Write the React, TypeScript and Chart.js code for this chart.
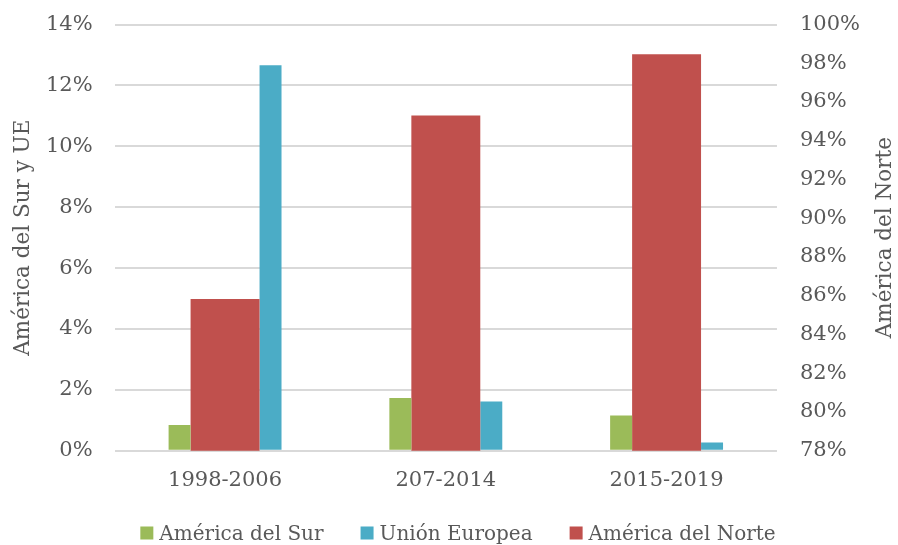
import React, { useEffect, useRef } from "react";
import { Chart, registerables } from "chart.js";

Chart.register(...registerables);

const categories = ["1998-2006", "207-2014", "2015-2019"];
const americaDelSur = [0.85, 1.73, 1.16];
const unionEuropea = [12.66, 1.62, 0.27];
const americaDelNorte = [85.84, 95.3, 98.46];
const leftTicks = { min: 0, max: 14, step: 2 };
const rightTicks = { min: 78, max: 100, step: 2 };
const leftTitle = "América del Sur y UE";
const rightTitle = "América del Norte";
const legendOrder = ["América del Sur", "Unión Europea", "América del Norte"];

const FONT = "'DejaVu Serif', serif";
const TEXT = "#595959";

export default function App() {
  const ref = useRef<HTMLCanvasElement | null>(null);
  useEffect(() => {
    document.body.style.margin = "0";
    const decorPlugin = {
      id: "decor",
      afterDraw(chart: any) {
        const { ctx, chartArea } = chart;
        const cy = (chartArea.top + chartArea.bottom) / 2;
        // axis titles
        const drawTitle = (text: string, x: number) => {
          ctx.save();
          ctx.fillStyle = TEXT;
          ctx.font = `21.5px ${FONT}`;
          ctx.textAlign = "center";
          ctx.textBaseline = "middle";
          ctx.translate(x, cy);
          ctx.rotate(-Math.PI / 2);
          ctx.fillText(text, 0, 0);
          ctx.restore();
        };
        drawTitle(leftTitle, 23);
        drawTitle(rightTitle, 885);
        // legend
        ctx.save();
        ctx.font = `20px ${FONT}`;
        ctx.textBaseline = "alphabetic";
        ctx.textAlign = "left";
        const box = 13;
        const gapText = 6;
        const gapItem = 37;
        const items = legendOrder.map((name) => {
          const ds = chart.data.datasets.find((d: any) => d.label === name);
          return { name, color: ds.backgroundColor, w: ctx.measureText(name).width };
        });
        const total =
          items.reduce((s, it) => s + box + gapText + it.w, 0) + gapItem * (items.length - 1);
        let x = 458 - total / 2;
        const baseY = 540;
        for (const it of items) {
          ctx.fillStyle = it.color;
          ctx.fillRect(x, baseY - 13.5, box, box);
          ctx.fillStyle = TEXT;
          ctx.fillText(it.name, x + box + gapText, baseY);
          x += box + gapText + it.w + gapItem;
        }
        ctx.restore();
      },
    };
    const noVertPad = (s: any) => {
      s.paddingTop = 0;
      s.paddingBottom = 0;
    };
    const chart = new Chart(ref.current!, {
      type: "bar",
      data: {
        labels: categories,
        datasets: [
          {
            label: "América del Sur",
            data: americaDelSur,
            backgroundColor: "#9BBB59",
            yAxisID: "y",
            barPercentage: 0.483,
            categoryPercentage: 0.618,
          },
          {
            label: "América del Norte",
            data: americaDelNorte,
            backgroundColor: "#C0504D",
            yAxisID: "y2",
            barPercentage: 1.516,
            categoryPercentage: 0.618,
          },
          {
            label: "Unión Europea",
            data: unionEuropea,
            backgroundColor: "#4BACC6",
            yAxisID: "y",
            barPercentage: 0.483,
            categoryPercentage: 0.618,
          },
        ],
      },
      options: {
        animation: false,
        responsive: true,
        maintainAspectRatio: false,
        layout: { padding: { left: 24, right: 15, top: 24.5, bottom: 35 } },
        plugins: {
          tooltip: { enabled: false },
          legend: { display: false },
        },
        scales: {
          x: {
            grid: { display: false, drawTicks: false },
            border: { display: false },
            ticks: {
              font: { family: FONT, size: 21 },
              color: TEXT,
              padding: 17,
            },
          },
          y: {
            position: "left",
            min: leftTicks.min,
            max: leftTicks.max,
            afterFit: noVertPad,
            grid: { color: "#d9d9d9", lineWidth: 2, drawTicks: false },
            border: { display: false },
            ticks: {
              stepSize: leftTicks.step,
              font: { family: FONT, size: 21 },
              color: TEXT,
              padding: 22,
              callback: (v: any) => v + "%",
            },
          },
          y2: {
            position: "right",
            min: rightTicks.min,
            max: rightTicks.max,
            afterFit: noVertPad,
            grid: { display: false, drawTicks: false },
            border: { display: false },
            ticks: {
              stepSize: rightTicks.step,
              font: { family: FONT, size: 21 },
              color: TEXT,
              padding: 23,
              callback: (v: any) => v + "%",
            },
          },
        },
      },
      plugins: [decorPlugin],
    });
    return () => chart.destroy();
  }, []);
  return (
    <div style={{ position: "fixed", left: 0, top: 0, width: 898, height: 545 }}>
      <canvas ref={ref} />
    </div>
  );
}
